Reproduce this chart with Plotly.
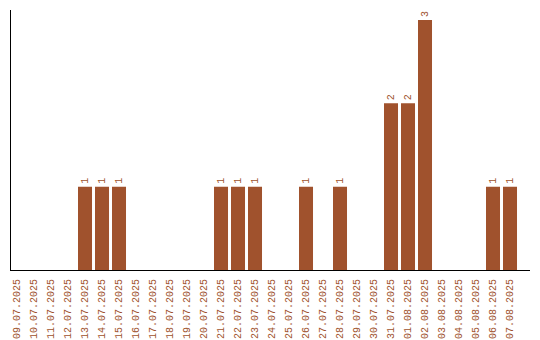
import plotly.graph_objects as go

dates = ["09.07.2025","10.07.2025","11.07.2025","12.07.2025","13.07.2025","14.07.2025",
         "15.07.2025","16.07.2025","17.07.2025","18.07.2025","19.07.2025","20.07.2025",
         "21.07.2025","22.07.2025","23.07.2025","24.07.2025","25.07.2025","26.07.2025",
         "27.07.2025","28.07.2025","29.07.2025","30.07.2025","31.07.2025","01.08.2025",
         "02.08.2025","03.08.2025","04.08.2025","05.08.2025","06.08.2025","07.08.2025"]
counts = [0,0,0,0,1,1,1,0,0,0,0,0,1,1,1,0,0,1,0,1,0,0,2,2,3,0,0,0,1,1]

color = "#A0522D"
labels = [str(c) if c > 0 else "" for c in counts]
FONT = "Liberation Mono"

fig = go.Figure(go.Bar(
    x=list(range(len(dates))), y=counts, marker_color=color, marker_line_width=0,
    text=labels, textposition="outside", textangle=-90,
    textfont=dict(family=FONT, size=10, color=color),
    cliponaxis=False, width=0.824,
))
fig.update_layout(
    width=540, height=340, margin=dict(l=11, r=10, t=10, b=70, autoexpand=False),
    plot_bgcolor="white", paper_bgcolor="white", showlegend=False,
    font=dict(family=FONT, size=10, color=color),
    uniformtext=dict(minsize=10, mode="show"),
)
fig.update_xaxes(tickmode="array", tickvals=list(range(len(dates))), ticktext=dates,
                 tickangle=-90, range=[-0.353, 30.176], showline=True, linecolor="black",
                 linewidth=1, showgrid=False, zeroline=False, ticks="",
                 automargin=False, ticklabelstandoff=4,
                 tickfont=dict(family=FONT, size=10, color=color))
fig.update_yaxes(range=[0, 3.12], showline=True, linecolor="black", linewidth=1,
                 showgrid=False, zeroline=False, showticklabels=False, ticks="",
                 automargin=False)
fig.write_html("out.html")
